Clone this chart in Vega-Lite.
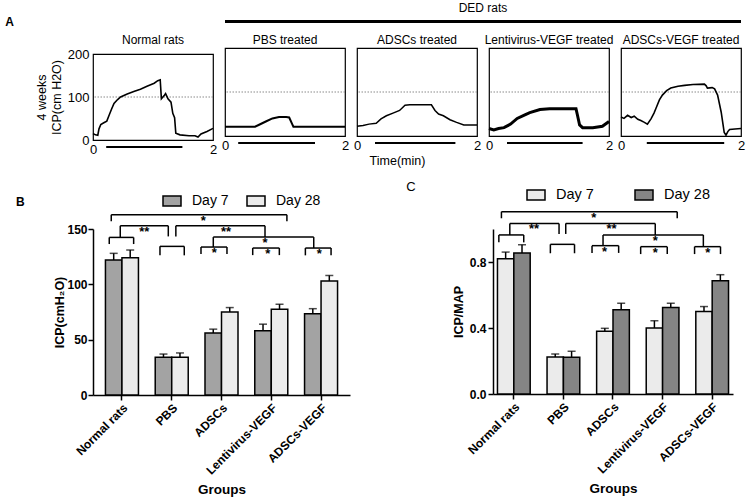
{
  "$schema": "https://vega.github.io/schema/vega-lite/v6.json",
  "padding": {"left": 5, "right": 2, "top": 2, "bottom": 2},
  "config": {
    "font": "Liberation Sans",
    "view": {"stroke": null},
    "axis": {"grid": false, "domainColor": "black", "tickColor": "black", "labelColor": "black", "titleColor": "black"},
    "title": {"fontWeight": "normal", "fontSize": 12, "color": "black", "offset": 4},
    "legend": {"labelColor": "black"}
  },
  "datasets": {
    "traces": [
      {"p":"Normal","t":0,"v":15},{"p":"Normal","t":0.04,"v":12},{"p":"Normal","t":0.08,"v":11},{"p":"Normal","t":0.1,"v":26},{"p":"Normal","t":0.13,"v":36},{"p":"Normal","t":0.18,"v":40},{"p":"Normal","t":0.23,"v":44},{"p":"Normal","t":0.27,"v":58},{"p":"Normal","t":0.31,"v":72},{"p":"Normal","t":0.35,"v":85},{"p":"Normal","t":0.41,"v":94},{"p":"Normal","t":0.46,"v":100},{"p":"Normal","t":0.57,"v":107},{"p":"Normal","t":0.68,"v":113},{"p":"Normal","t":0.79,"v":118},{"p":"Normal","t":0.9,"v":125},{"p":"Normal","t":1.02,"v":132},{"p":"Normal","t":1.08,"v":138},{"p":"Normal","t":1.12,"v":140},{"p":"Normal","t":1.14,"v":96},{"p":"Normal","t":1.19,"v":104},{"p":"Normal","t":1.21,"v":108},{"p":"Normal","t":1.25,"v":96},{"p":"Normal","t":1.3,"v":88},{"p":"Normal","t":1.33,"v":62},{"p":"Normal","t":1.36,"v":52},{"p":"Normal","t":1.38,"v":16},{"p":"Normal","t":1.45,"v":12},{"p":"Normal","t":1.6,"v":10},{"p":"Normal","t":1.7,"v":10},{"p":"Normal","t":1.75,"v":7},{"p":"Normal","t":1.8,"v":14},{"p":"Normal","t":1.9,"v":20},{"p":"Normal","t":2.0,"v":27},
      {"p":"PBS","t":0,"v":21},{"p":"PBS","t":0.25,"v":21},{"p":"PBS","t":0.5,"v":21},{"p":"PBS","t":0.56,"v":25},{"p":"PBS","t":0.68,"v":33},{"p":"PBS","t":0.79,"v":40},{"p":"PBS","t":0.9,"v":43},{"p":"PBS","t":1.02,"v":43},{"p":"PBS","t":1.07,"v":42},{"p":"PBS","t":1.12,"v":27},{"p":"PBS","t":1.14,"v":21},{"p":"PBS","t":1.5,"v":21},{"p":"PBS","t":2.0,"v":21},
      {"p":"ADSCs","t":0,"v":22},{"p":"ADSCs","t":0.1,"v":24},{"p":"ADSCs","t":0.2,"v":27},{"p":"ADSCs","t":0.32,"v":29},{"p":"ADSCs","t":0.4,"v":39},{"p":"ADSCs","t":0.49,"v":46},{"p":"ADSCs","t":0.6,"v":52},{"p":"ADSCs","t":0.71,"v":58},{"p":"ADSCs","t":0.8,"v":70},{"p":"ADSCs","t":0.88,"v":71},{"p":"ADSCs","t":1.24,"v":71},{"p":"ADSCs","t":1.3,"v":58},{"p":"ADSCs","t":1.36,"v":50},{"p":"ADSCs","t":1.44,"v":46},{"p":"ADSCs","t":1.55,"v":37},{"p":"ADSCs","t":1.66,"v":31},{"p":"ADSCs","t":1.78,"v":25},{"p":"ADSCs","t":1.89,"v":25},{"p":"ADSCs","t":2.0,"v":25},
      {"p":"Lenti","t":0,"v":17},{"p":"Lenti","t":0.08,"v":14},{"p":"Lenti","t":0.16,"v":17},{"p":"Lenti","t":0.25,"v":19},{"p":"Lenti","t":0.36,"v":27},{"p":"Lenti","t":0.47,"v":40},{"p":"Lenti","t":0.58,"v":47},{"p":"Lenti","t":0.68,"v":53},{"p":"Lenti","t":0.85,"v":60},{"p":"Lenti","t":1.01,"v":62},{"p":"Lenti","t":1.23,"v":62},{"p":"Lenti","t":1.45,"v":62},{"p":"Lenti","t":1.47,"v":50},{"p":"Lenti","t":1.51,"v":25},{"p":"Lenti","t":1.56,"v":19},{"p":"Lenti","t":1.73,"v":19},{"p":"Lenti","t":1.89,"v":22},{"p":"Lenti","t":2.0,"v":33},
      {"p":"AV","t":0,"v":43},{"p":"AV","t":0.05,"v":40},{"p":"AV","t":0.11,"v":47},{"p":"AV","t":0.17,"v":42},{"p":"AV","t":0.22,"v":45},{"p":"AV","t":0.28,"v":38},{"p":"AV","t":0.33,"v":35},{"p":"AV","t":0.39,"v":31},{"p":"AV","t":0.44,"v":27},{"p":"AV","t":0.5,"v":39},{"p":"AV","t":0.55,"v":52},{"p":"AV","t":0.58,"v":62},{"p":"AV","t":0.64,"v":82},{"p":"AV","t":0.69,"v":93},{"p":"AV","t":0.76,"v":103},{"p":"AV","t":0.83,"v":109},{"p":"AV","t":0.95,"v":113},{"p":"AV","t":1.06,"v":115},{"p":"AV","t":1.2,"v":117},{"p":"AV","t":1.39,"v":118},{"p":"AV","t":1.42,"v":114},{"p":"AV","t":1.44,"v":109},{"p":"AV","t":1.52,"v":110},{"p":"AV","t":1.56,"v":107},{"p":"AV","t":1.61,"v":93},{"p":"AV","t":1.67,"v":54},{"p":"AV","t":1.72,"v":8},{"p":"AV","t":1.75,"v":2},{"p":"AV","t":1.78,"v":10},{"p":"AV","t":1.81,"v":15},{"p":"AV","t":1.9,"v":16},{"p":"AV","t":2.0,"v":17}
    ],
    "stim": [
      {"p":"Normal","s":0.22,"e":1.49},{"p":"PBS","s":0.22,"e":1.5},{"p":"ADSCs","s":0.3,"e":1.64},{"p":"Lenti","s":0.3,"e":1.56},{"p":"AV","s":0.43,"e":1.72}
    ],
    "icp": [
      {"group":"Normal rats","day":"Day 7","mean":122,"err":128},{"group":"Normal rats","day":"Day 28","mean":124,"err":131},
      {"group":"PBS","day":"Day 7","mean":34,"err":37},{"group":"PBS","day":"Day 28","mean":34,"err":38},
      {"group":"ADSCs","day":"Day 7","mean":56,"err":59.5},{"group":"ADSCs","day":"Day 28","mean":75,"err":79},
      {"group":"Lentivirus-VEGF","day":"Day 7","mean":58,"err":64},{"group":"Lentivirus-VEGF","day":"Day 28","mean":77.5,"err":82},
      {"group":"ADSCs-VEGF","day":"Day 7","mean":73.5,"err":78},{"group":"ADSCs-VEGF","day":"Day 28","mean":103,"err":108}
    ],
    "ratio": [
      {"group":"Normal rats","day":"Day 7","mean":0.82,"err":0.86},{"group":"Normal rats","day":"Day 28","mean":0.855,"err":0.905},
      {"group":"PBS","day":"Day 7","mean":0.225,"err":0.242},{"group":"PBS","day":"Day 28","mean":0.222,"err":0.259},
      {"group":"ADSCs","day":"Day 7","mean":0.38,"err":0.398},{"group":"ADSCs","day":"Day 28","mean":0.51,"err":0.55},
      {"group":"Lentivirus-VEGF","day":"Day 7","mean":0.4,"err":0.444},{"group":"Lentivirus-VEGF","day":"Day 28","mean":0.525,"err":0.55},
      {"group":"ADSCs-VEGF","day":"Day 7","mean":0.5,"err":0.53},{"group":"ADSCs-VEGF","day":"Day 28","mean":0.687,"err":0.723}
    ],
    "brB": [
      {"x1":0.285,"x2":3.814,"y1":162.9,"y2":162.9},{"x1":0.285,"x2":0.285,"y1":162.9,"y2":156.9},{"x1":3.814,"x2":3.814,"y1":162.9,"y2":156.9},
      {"x1":0.466,"x2":1.431,"y1":152.9,"y2":152.9},{"x1":0.466,"x2":0.466,"y1":152.9,"y2":142.4},{"x1":1.431,"x2":1.431,"y1":152.9,"y2":143.3},
      {"x1":0.245,"x2":0.735,"y1":142.4,"y2":142.4},{"x1":0.245,"x2":0.245,"y1":142.4,"y2":136.4},{"x1":0.735,"x2":0.735,"y1":142.4,"y2":136.4},
      {"x1":1.264,"x2":1.752,"y1":134.3,"y2":134.3},{"x1":1.264,"x2":1.264,"y1":134.3,"y2":126.2},{"x1":1.752,"x2":1.752,"y1":134.3,"y2":126.2},
      {"x1":1.583,"x2":3.374,"y1":152.9,"y2":152.9},{"x1":1.583,"x2":1.583,"y1":152.9,"y2":143.3},{"x1":3.374,"x2":3.374,"y1":152.9,"y2":142.7},
      {"x1":2.335,"x2":4.353,"y1":142.7,"y2":142.7},{"x1":2.335,"x2":2.335,"y1":142.7,"y2":133.7},{"x1":4.353,"x2":4.353,"y1":142.7,"y2":132.8},
      {"x1":2.088,"x2":2.61,"y1":133.7,"y2":133.7},{"x1":2.088,"x2":2.088,"y1":133.7,"y2":127.4},{"x1":2.61,"x2":2.61,"y1":133.7,"y2":127.4},
      {"x1":3.127,"x2":3.662,"y1":132.8,"y2":132.8},{"x1":3.127,"x2":3.127,"y1":132.8,"y2":126.4},{"x1":3.662,"x2":3.662,"y1":132.8,"y2":126.4},
      {"x1":4.185,"x2":4.701,"y1":132.8,"y2":132.8},{"x1":4.185,"x2":4.185,"y1":132.8,"y2":126.2},{"x1":4.701,"x2":4.701,"y1":132.8,"y2":126.2}
    ],
    "starB": [
      {"x":2.134,"y":162.9,"s":"*"},{"x":0.948,"y":152.9,"s":"**"},{"x":2.59,"y":152.9,"s":"**"},{"x":3.374,"y":142.7,"s":"*"},
      {"x":2.355,"y":133.7,"s":"*"},{"x":3.429,"y":132.8,"s":"*"},{"x":4.466,"y":132.8,"s":"*"}
    ],
    "brC": [
      {"x1":0.25,"x2":3.795,"y1":1.105,"y2":1.105},{"x1":0.25,"x2":0.25,"y1":1.105,"y2":1.065},{"x1":3.795,"x2":3.795,"y1":1.105,"y2":1.065},
      {"x1":0.419,"x2":1.412,"y1":1.034,"y2":1.034},{"x1":0.419,"x2":0.419,"y1":1.034,"y2":0.964},{"x1":1.412,"x2":1.412,"y1":1.034,"y2":0.97},
      {"x1":0.198,"x2":0.7,"y1":0.964,"y2":0.964},{"x1":0.198,"x2":0.198,"y1":0.964,"y2":0.919},{"x1":0.7,"x2":0.7,"y1":0.964,"y2":0.919},
      {"x1":1.237,"x2":1.724,"y1":0.907,"y2":0.907},{"x1":1.237,"x2":1.237,"y1":0.907,"y2":0.853},{"x1":1.724,"x2":1.724,"y1":0.907,"y2":0.853},
      {"x1":1.547,"x2":3.352,"y1":1.034,"y2":1.034},{"x1":1.547,"x2":1.547,"y1":1.034,"y2":0.97},{"x1":3.352,"x2":3.352,"y1":1.034,"y2":0.964},
      {"x1":2.299,"x2":4.322,"y1":0.964,"y2":0.964},{"x1":2.299,"x2":2.299,"y1":0.964,"y2":0.899},{"x1":4.322,"x2":4.322,"y1":0.964,"y2":0.893},
      {"x1":2.077,"x2":2.614,"y1":0.899,"y2":0.899},{"x1":2.077,"x2":2.077,"y1":0.899,"y2":0.855},{"x1":2.614,"x2":2.614,"y1":0.899,"y2":0.855},
      {"x1":3.058,"x2":3.594,"y1":0.893,"y2":0.893},{"x1":3.058,"x2":3.058,"y1":0.893,"y2":0.848},{"x1":3.594,"x2":3.594,"y1":0.893,"y2":0.848},
      {"x1":4.145,"x2":4.668,"y1":0.893,"y2":0.893},{"x1":4.145,"x2":4.145,"y1":0.893,"y2":0.848},{"x1":4.668,"x2":4.668,"y1":0.893,"y2":0.848}
    ],
    "starC": [
      {"x":2.111,"y":1.105,"s":"*"},{"x":0.909,"y":1.034,"s":"**"},{"x":2.469,"y":1.034,"s":"**"},{"x":3.352,"y":0.964,"s":"*"},
      {"x":2.329,"y":0.899,"s":"*"},{"x":3.352,"y":0.893,"s":"*"},{"x":4.413,"y":0.893,"s":"*"}
    ]
  },
  "spacing": 13,
  "vconcat": [
    {
      "title": {"text": "A", "anchor": "start", "frame": "bounds", "fontWeight": "bold", "fontSize": 12, "dx": -30, "dy": 31},
      "spacing": 2,
      "hconcat": [
        {
          "spacing": 10,
          "vconcat": [
            {"width": 120, "height": 3, "title": {"text": " ", "offset": 5}, "data": {"values": []}, "mark": "point"},
            {
              "width": 120, "height": 86,
              "title": {"text": "Normal  rats", "offset": 1},
              "view": {"stroke": "black", "strokeWidth": 1.2},
              "layer": [
                {"data": {"values": [{}]}, "mark": {"type": "rule", "color": "#8a8a8a", "strokeDash": [1.5, 1.5], "strokeWidth": 1}, "encoding": {"y": {"datum": 100, "type": "quantitative", "title": null, "scale": {"domain": [0, 200], "nice": false}}}},
                {"data": {"name": "traces"}, "transform": [{"filter": "datum.p === 'Normal'"}], "mark": {"type": "line", "color": "black", "strokeWidth": 1.6},
                 "encoding": {
                   "x": {"field": "t", "type": "quantitative", "title": null, "scale": {"domain": [0, 2], "nice": false}, "axis": {"values": [0, 2], "format": "d", "ticks": false, "domain": false, "labelPadding": 3, "labelFontSize": 13, "labelFlush": false}},
                   "y": {"field": "v", "type": "quantitative", "title": ["4 weeks", "ICP(cm H2O)"], "scale": {"domain": [0, 200], "nice": false}, "axis": {"values": [0, 100, 200], "ticks": false, "domain": false, "labelPadding": 4, "labelFontSize": 13, "titleFontSize": 12.5, "titleFontWeight": "normal", "titlePadding": 4}}
                 }},
                {"data": {"name": "stim"}, "transform": [{"filter": "datum.p === 'Normal'"}], "mark": {"type": "rule", "color": "black", "strokeWidth": 2.2, "yOffset": 7},
                 "encoding": {"x": {"field": "s", "type": "quantitative", "title": null, "scale": {"domain": [0, 2], "nice": false}}, "x2": {"field": "e"}, "y": {"datum": 0, "type": "quantitative", "title": null, "scale": {"domain": [0, 200], "nice": false}}}}
              ]
            }
          ]
        },
        {
          "spacing": 10,
          "vconcat": [
            {"width": 516, "height": 3, "title": {"text": "DED  rats", "offset": 5}, "view": {"fill": "black", "stroke": null}, "data": {"values": []}, "mark": "point"},
            {
              "spacing": 12,
              "bounds": "flush",
              "hconcat": [
                {
                  "width": 120, "height": 88, "title": {"text": "PBS treated", "offset": 1},
                  "view": {"stroke": "black", "strokeWidth": 1.2},
                  "layer": [
                    {"data": {"values": [{}]}, "mark": {"type": "rule", "color": "#8a8a8a", "strokeDash": [1.5, 1.5], "strokeWidth": 1}, "encoding": {"y": {"datum": 100, "type": "quantitative", "axis": null, "scale": {"domain": [0, 200], "nice": false}}}},
                    {"data": {"name": "traces"}, "transform": [{"filter": "datum.p === 'PBS'"}], "mark": {"type": "line", "color": "black", "strokeWidth": 2},
                     "encoding": {
                       "x": {"field": "t", "type": "quantitative", "title": null, "scale": {"domain": [0, 2], "nice": false}, "axis": {"values": [0, 2], "format": "d", "ticks": false, "domain": false, "labelPadding": 3, "labelFontSize": 13, "labelFlush": false}},
                       "y": {"field": "v", "type": "quantitative", "scale": {"domain": [0, 200], "nice": false}, "axis": null}
                     }},
                    {"data": {"name": "stim"}, "transform": [{"filter": "datum.p === 'PBS'"}], "mark": {"type": "rule", "color": "black", "strokeWidth": 2.2, "yOffset": 7},
                     "encoding": {"x": {"field": "s", "type": "quantitative", "title": null, "scale": {"domain": [0, 2], "nice": false}}, "x2": {"field": "e"}, "y": {"datum": 0, "type": "quantitative", "axis": null, "scale": {"domain": [0, 200], "nice": false}}}}
                  ]
                },
                {
                  "width": 120, "height": 88, "title": {"text": "ADSCs treated", "offset": 1},
                  "view": {"stroke": "black", "strokeWidth": 1.2},
                  "layer": [
                    {"data": {"values": [{}]}, "mark": {"type": "rule", "color": "#8a8a8a", "strokeDash": [1.5, 1.5], "strokeWidth": 1}, "encoding": {"y": {"datum": 100, "type": "quantitative", "axis": null, "scale": {"domain": [0, 200], "nice": false}}}},
                    {"data": {"name": "traces"}, "transform": [{"filter": "datum.p === 'ADSCs'"}], "mark": {"type": "line", "color": "black", "strokeWidth": 1.5},
                     "encoding": {
                       "x": {"field": "t", "type": "quantitative", "title": "Time(min)", "scale": {"domain": [0, 2], "nice": false}, "axis": {"values": [0, 2], "format": "d", "ticks": false, "domain": false, "labelPadding": 3, "labelFontSize": 13, "labelFlush": false, "titleFontSize": 12.5, "titleFontWeight": "normal", "titlePadding": 2, "titleX": 40}},
                       "y": {"field": "v", "type": "quantitative", "scale": {"domain": [0, 200], "nice": false}, "axis": null}
                     }},
                    {"data": {"name": "stim"}, "transform": [{"filter": "datum.p === 'ADSCs'"}], "mark": {"type": "rule", "color": "black", "strokeWidth": 2.2, "yOffset": 7},
                     "encoding": {"x": {"field": "s", "type": "quantitative", "title": "Time(min)", "scale": {"domain": [0, 2], "nice": false}}, "x2": {"field": "e"}, "y": {"datum": 0, "type": "quantitative", "axis": null, "scale": {"domain": [0, 200], "nice": false}}}}
                  ]
                },
                {
                  "width": 120, "height": 88, "title": {"text": "Lentivirus-VEGF  treated", "offset": 1},
                  "view": {"stroke": "black", "strokeWidth": 1.2},
                  "layer": [
                    {"data": {"values": [{}]}, "mark": {"type": "rule", "color": "#8a8a8a", "strokeDash": [1.5, 1.5], "strokeWidth": 1}, "encoding": {"y": {"datum": 100, "type": "quantitative", "axis": null, "scale": {"domain": [0, 200], "nice": false}}}},
                    {"data": {"name": "traces"}, "transform": [{"filter": "datum.p === 'Lenti'"}], "mark": {"type": "line", "color": "black", "strokeWidth": 3},
                     "encoding": {
                       "x": {"field": "t", "type": "quantitative", "title": null, "scale": {"domain": [0, 2], "nice": false}, "axis": {"values": [0, 2], "format": "d", "ticks": false, "domain": false, "labelPadding": 3, "labelFontSize": 13, "labelFlush": false}},
                       "y": {"field": "v", "type": "quantitative", "scale": {"domain": [0, 200], "nice": false}, "axis": null}
                     }},
                    {"data": {"name": "stim"}, "transform": [{"filter": "datum.p === 'Lenti'"}], "mark": {"type": "rule", "color": "black", "strokeWidth": 2.2, "yOffset": 7},
                     "encoding": {"x": {"field": "s", "type": "quantitative", "title": null, "scale": {"domain": [0, 2], "nice": false}}, "x2": {"field": "e"}, "y": {"datum": 0, "type": "quantitative", "axis": null, "scale": {"domain": [0, 200], "nice": false}}}}
                  ]
                },
                {
                  "width": 120, "height": 88, "title": {"text": "ADSCs-VEGF treated", "offset": 1},
                  "view": {"stroke": "black", "strokeWidth": 1.2},
                  "layer": [
                    {"data": {"values": [{}]}, "mark": {"type": "rule", "color": "#8a8a8a", "strokeDash": [1.5, 1.5], "strokeWidth": 1}, "encoding": {"y": {"datum": 100, "type": "quantitative", "axis": null, "scale": {"domain": [0, 200], "nice": false}}}},
                    {"data": {"name": "traces"}, "transform": [{"filter": "datum.p === 'AV'"}], "mark": {"type": "line", "color": "black", "strokeWidth": 1.6},
                     "encoding": {
                       "x": {"field": "t", "type": "quantitative", "title": null, "scale": {"domain": [0, 2], "nice": false}, "axis": {"values": [0, 2], "format": "d", "ticks": false, "domain": false, "labelPadding": 3, "labelFontSize": 13, "labelFlush": false}},
                       "y": {"field": "v", "type": "quantitative", "scale": {"domain": [0, 200], "nice": false}, "axis": null}
                     }},
                    {"data": {"name": "stim"}, "transform": [{"filter": "datum.p === 'AV'"}], "mark": {"type": "rule", "color": "black", "strokeWidth": 2.2, "yOffset": 7},
                     "encoding": {"x": {"field": "s", "type": "quantitative", "title": null, "scale": {"domain": [0, 2], "nice": false}}, "x2": {"field": "e"}, "y": {"datum": 0, "type": "quantitative", "axis": null, "scale": {"domain": [0, 200], "nice": false}}}}
                  ]
                }
              ]
            }
          ]
        }
      ]
    },
    {
      "spacing": 56,
      "resolve": {"scale": {"fill": "independent", "xOffset": "independent"}, "legend": {"fill": "independent"}},
      "hconcat": [
        {
          "width": 257, "height": 166,
          "title": {"text": "B", "anchor": "start", "frame": "bounds", "fontSize": 12, "fontWeight": "bold", "dx": -38, "dy": 22},
          "layer": [
            {
              "data": {"name": "icp"},
              "encoding": {
                "x": {"field": "group", "type": "nominal", "title": "Groups", "sort": ["Normal rats", "PBS", "ADSCs", "Lentivirus-VEGF", "ADSCs-VEGF"], "scale": {"paddingInner": 0.337, "paddingOuter": 0.25},
                      "axis": {"labelAngle": -45, "labelAlign": "right", "labelBaseline": "top", "labelFontWeight": "bold", "labelFontSize": 12, "titleFontWeight": "bold", "titleFontSize": 13.5, "tickSize": 5, "tickWidth": 1.5, "domainWidth": 1.5, "labelPadding": 2, "titlePadding": 6}},
                "xOffset": {"field": "day", "type": "nominal", "sort": ["Day 7", "Day 28"]}
              },
              "layer": [
                {"mark": {"type": "bar", "stroke": "black", "strokeWidth": 1.5},
                 "encoding": {
                   "y": {"field": "mean", "type": "quantitative", "title": "ICP(cmH₂O)", "scale": {"domain": [0, 150], "nice": false},
                         "axis": {"values": [0, 50, 100, 150], "labelFontWeight": "bold", "labelFontSize": 12, "titleFontWeight": "bold", "titleFontSize": 12.5, "tickSize": 5, "tickWidth": 1.5, "domainWidth": 1.5, "titlePadding": 0, "labelPadding": 1}},
                   "fill": {"field": "day", "type": "nominal", "sort": ["Day 7", "Day 28"], "scale": {"domain": ["Day 7", "Day 28"], "range": ["#a3a3a3", "#ebebeb"]},
                            "legend": {"orient": "top", "direction": "horizontal", "title": " ", "titleOrient": "left", "titlePadding": 69, "symbolType": "M-1,-0.55H1V0.55H-1Z", "symbolSize": 324, "symbolStrokeColor": "black", "symbolStrokeWidth": 1.5, "labelFontSize": 14, "labelOffset": 10, "columnPadding": 15, "offset": 20}}
                 }},
                {"mark": {"type": "rule", "color": "black", "strokeWidth": 1.5}, "encoding": {"y": {"field": "mean", "type": "quantitative", "title": "ICP(cmH₂O)"}, "y2": {"field": "err"}}},
                {"mark": {"type": "tick", "color": "black", "size": 8, "thickness": 1.5}, "encoding": {"y": {"field": "err", "type": "quantitative", "title": "ICP(cmH₂O)"}}}
              ]
            },
            {
              "layer": [
                {"data": {"name": "brB"}, "mark": {"type": "rule", "color": "black", "strokeWidth": 1.5},
                 "encoding": {"x": {"field": "x1", "type": "quantitative", "scale": {"domain": [-0.0815, 5.0815], "nice": false, "zero": false}, "axis": null}, "x2": {"field": "x2"}, "y": {"field": "y1", "type": "quantitative", "title": "ICP(cmH₂O)", "scale": {"domain": [0, 150], "nice": false}}, "y2": {"field": "y2"}}},
                {"data": {"name": "starB"}, "mark": {"type": "text", "baseline": "top", "fontSize": 13, "fontWeight": "bold", "color": "black"},
                 "encoding": {"x": {"field": "x", "type": "quantitative"}, "y": {"field": "y", "type": "quantitative", "title": "ICP(cmH₂O)"}, "text": {"field": "s"}}}
              ]
            }
          ],
          "resolve": {"scale": {"x": "independent"}, "axis": {"x": "independent"}}
        },
        {
          "width": 240, "height": 165,
          "title": {"text": "C", "anchor": "start", "frame": "bounds", "fontSize": 13, "fontWeight": "normal", "dx": -46, "dy": 13},
          "layer": [
            {
              "data": {"name": "ratio"},
              "encoding": {
                "x": {"field": "group", "type": "nominal", "title": "Groups", "sort": ["Normal rats", "PBS", "ADSCs", "Lentivirus-VEGF", "ADSCs-VEGF"], "scale": {"paddingInner": 0.34, "paddingOuter": 0.09},
                      "axis": {"labelAngle": -45, "labelAlign": "right", "labelBaseline": "top", "labelFontWeight": "bold", "labelFontSize": 12, "titleFontWeight": "bold", "titleFontSize": 13.5, "tickSize": 5, "tickWidth": 1.5, "domainWidth": 1.5, "labelPadding": 2, "titlePadding": 6}},
                "xOffset": {"field": "day", "type": "nominal", "sort": ["Day 7", "Day 28"]}
              },
              "layer": [
                {"mark": {"type": "bar", "stroke": "black", "strokeWidth": 1.5},
                 "encoding": {
                   "y": {"field": "mean", "type": "quantitative", "title": "ICP/MAP", "scale": {"domain": [0, 1], "nice": false},
                         "axis": {"values": [0, 0.2, 0.4, 0.6, 0.8, 1.0], "format": ".1f", "labelFontWeight": "bold", "labelFontSize": 12, "titleFontWeight": "bold", "titleFontSize": 12.5, "tickSize": 5, "tickWidth": 1.5, "domainWidth": 1.5, "titlePadding": 4, "labelOverlap": false}},
                   "fill": {"field": "day", "type": "nominal", "sort": ["Day 7", "Day 28"], "scale": {"domain": ["Day 7", "Day 28"], "range": ["#ebebeb", "#858585"]},
                            "legend": {"orient": "top", "direction": "horizontal", "title": " ", "titleOrient": "left", "titlePadding": 33, "symbolType": "M-1,-0.55H1V0.55H-1Z", "symbolSize": 324, "symbolStrokeColor": "black", "symbolStrokeWidth": 1.5, "labelFontSize": 14.5, "labelOffset": 10, "columnPadding": 38, "offset": 26}}
                 }},
                {"mark": {"type": "rule", "color": "black", "strokeWidth": 1.5}, "encoding": {"y": {"field": "mean", "type": "quantitative", "title": "ICP/MAP"}, "y2": {"field": "err"}}},
                {"mark": {"type": "tick", "color": "black", "size": 8, "thickness": 1.5}, "encoding": {"y": {"field": "err", "type": "quantitative", "title": "ICP/MAP"}}}
              ]
            },
            {
              "layer": [
                {"data": {"name": "brC"}, "mark": {"type": "rule", "color": "black", "strokeWidth": 1.5},
                 "encoding": {"x": {"field": "x1", "type": "quantitative", "scale": {"domain": [0.08, 4.92], "nice": false, "zero": false}, "axis": null}, "x2": {"field": "x2"}, "y": {"field": "y1", "type": "quantitative", "title": "ICP/MAP", "scale": {"domain": [0, 1], "nice": false}}, "y2": {"field": "y2"}}},
                {"data": {"name": "starC"}, "mark": {"type": "text", "baseline": "top", "fontSize": 13, "fontWeight": "bold", "color": "black"},
                 "encoding": {"x": {"field": "x", "type": "quantitative"}, "y": {"field": "y", "type": "quantitative", "title": "ICP/MAP"}, "text": {"field": "s"}}}
              ]
            }
          ],
          "resolve": {"scale": {"x": "independent"}, "axis": {"x": "independent"}}
        }
      ]
    }
  ]
}
